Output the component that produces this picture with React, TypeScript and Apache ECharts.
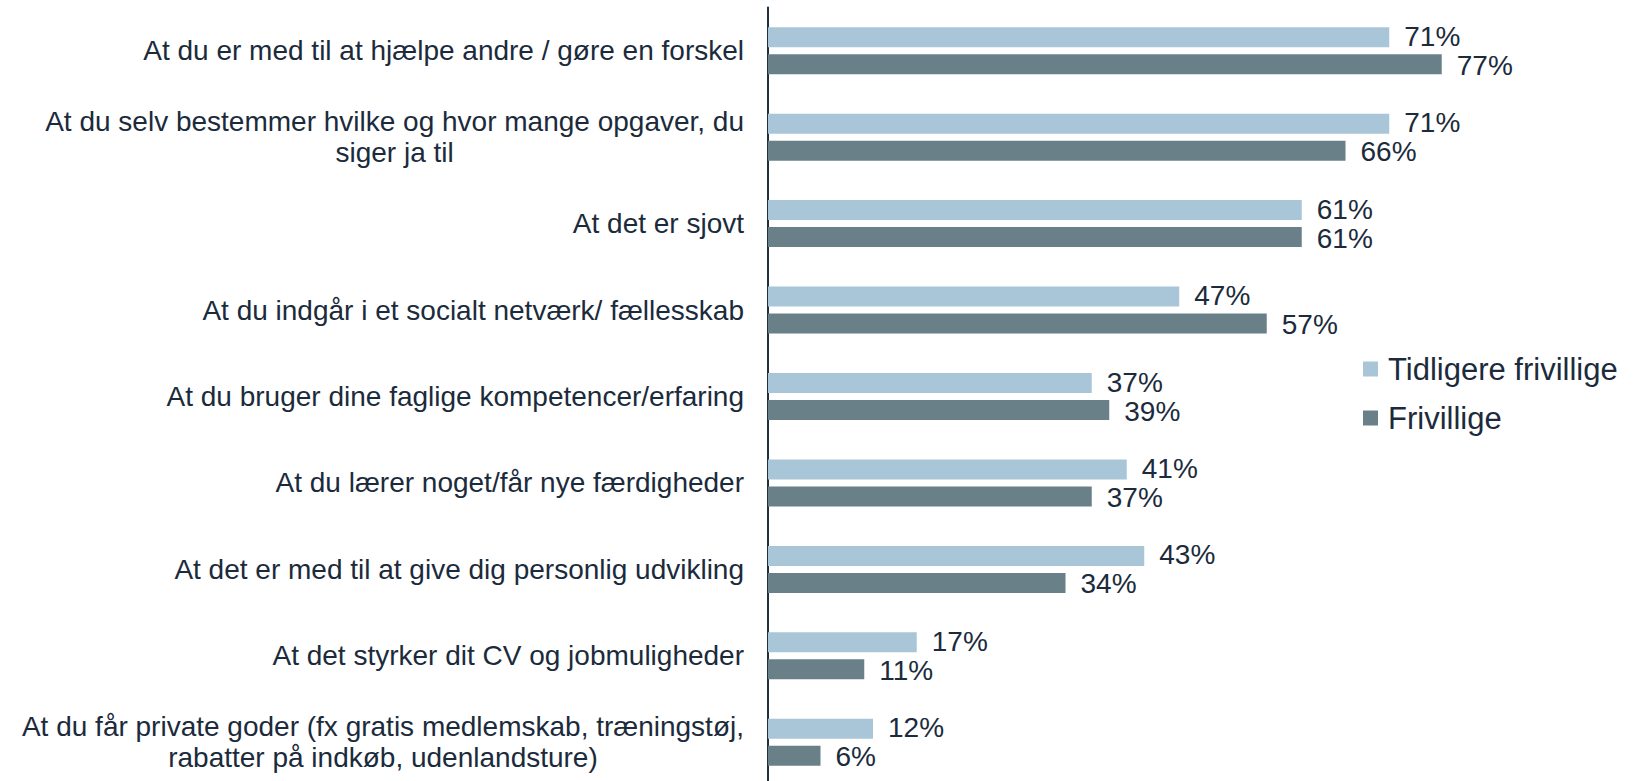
import React, { useEffect, useRef } from "react";
import * as echarts from "echarts";

const categories: string[] = [
  "At du er med til at hjælpe andre / gøre en forskel",
  "At du selv bestemmer hvilke og hvor mange opgaver, du\nsiger ja til",
  "At det er sjovt",
  "At du indgår i et socialt netværk/ fællesskab",
  "At du bruger dine faglige kompetencer/erfaring",
  "At du lærer noget/får nye færdigheder",
  "At det er med til at give dig personlig udvikling",
  "At det styrker dit CV og jobmuligheder",
  "At du får private goder (fx gratis medlemskab, træningstøj,\nrabatter på indkøb, udenlandsture)",
];

const seriesNames: string[] = ["Tidligere frivillige", "Frivillige"];
const tidligere: number[] = [71, 71, 61, 47, 37, 41, 43, 17, 12];
const frivillige: number[] = [77, 66, 61, 57, 39, 37, 34, 11, 6];

const TEXT = "#1B2B3C";
const FONT = "'Liberation Sans', Arial, sans-serif";

export default function App() {
  const ref = useRef<HTMLDivElement>(null);
  useEffect(() => {
    if (!ref.current) return;
    const chart = echarts.init(ref.current, null, { renderer: "svg" });
    const labelCfg = (dy: number) => ({
      show: true,
      position: "right",
      distance: 15,
      offset: [0, dy],
      formatter: "{c}%",
      color: TEXT,
      fontSize: 28,
      lineHeight: 26,
      fontFamily: FONT,
    });
    chart.setOption({
      animation: false,
      backgroundColor: "#ffffff",
      grid: {
        left: 768,
        top: 7.5,
        width: 875,
        height: 778,
        containLabel: false,
        outerBoundsMode: "none",
      },
      legend: {
        orient: "vertical",
        left: 1358,
        top: 347,
        itemWidth: 15,
        itemHeight: 15,
        itemGap: 15,
        icon: "rect",
        data: seriesNames,
        textStyle: {
          color: TEXT,
          fontSize: 31,
          fontFamily: FONT,
          lineHeight: 34,
          padding: [0, 0, 0, 5],
        },
      },
      xAxis: {
        type: "value",
        min: 0,
        max: 100,
        show: false,
      },
      yAxis: {
        type: "category",
        inverse: true,
        data: categories,
        axisLine: { show: true, lineStyle: { color: "#1F2F40", width: 2 } },
        axisTick: { show: false },
        axisLabel: {
          margin: 24,
          formatter: (v: string) =>
            v
              .split("\n")
              .map((l) => "{c|" + l + "}")
              .join("\n"),
          rich: {
            c: {
              align: "center",
              color: TEXT,
              fontSize: 28,
              fontFamily: FONT,
              lineHeight: 31,
            },
          },
        },
      },
      series: [
        {
          name: seriesNames[0],
          type: "bar",
          data: tidligere,
          barWidth: 20,
          barGap: "35%",
          itemStyle: { color: "#A8C6D7" },
          label: labelCfg(-1),
        },
        {
          name: seriesNames[1],
          type: "bar",
          data: frivillige,
          barWidth: 20,
          barGap: "35%",
          itemStyle: { color: "#6A8089" },
          label: labelCfg(1),
        },
      ],
    });
    return () => chart.dispose();
  }, []);
  return (
    <div
      ref={ref}
      style={{ position: "fixed", left: 0, top: 0, width: 1644, height: 781 }}
    />
  );
}
